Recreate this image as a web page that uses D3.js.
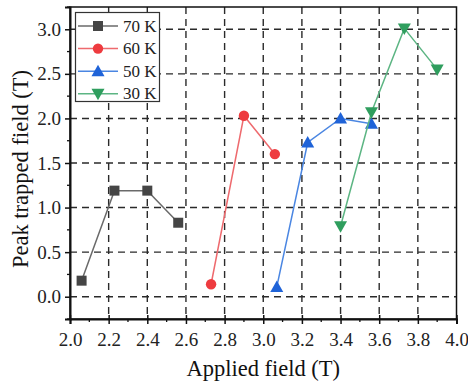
<!DOCTYPE html>
<html>
<head>
<meta charset="utf-8">
<script src="https://cdn.jsdelivr.net/npm/d3@7"></script>
<style>
  html, body { margin: 0; padding: 0; background: #fff; }
  svg { display: block; font-family: "Liberation Serif", "Times New Roman", serif; }
</style>
</head>
<body>
<svg id="chart" width="468" height="385"></svg>
<script>
// Peak trapped field versus applied field at several temperatures
const seriesNames = ["70 K", "60 K", "50 K", "30 K"];
const appliedField70 = [2.06, 2.23, 2.40, 2.56];
const trapped70 = [0.18, 1.19, 1.19, 0.83];
const appliedField60 = [2.73, 2.90, 3.06];
const trapped60 = [0.14, 2.03, 1.60];
const appliedField50 = [3.07, 3.23, 3.40, 3.56];
const trapped50 = [0.11, 1.73, 2.00, 1.94];
const appliedField30 = [3.40, 3.56, 3.73, 3.90];
const trapped30 = [0.79, 2.07, 3.01, 2.55];
const xTicks = [2.0, 2.2, 2.4, 2.6, 2.8, 3.0, 3.2, 3.4, 3.6, 3.8, 4.0];
const yTicks = [0.0, 0.5, 1.0, 1.5, 2.0, 2.5, 3.0];

const series = [
  { name: seriesNames[0], x: appliedField70, y: trapped70, marker: "square", fill: "#454545", line: "#6a6a6a" },
  { name: seriesNames[1], x: appliedField60, y: trapped60, marker: "circle", fill: "#ee3b3f", line: "#ee6a6e" },
  { name: seriesNames[2], x: appliedField50, y: trapped50, marker: "up", fill: "#1f63d8", line: "#4a86e2" },
  { name: seriesNames[3], x: appliedField30, y: trapped30, marker: "down", fill: "#2f9e5e", line: "#5cb583" }
];

const svg = d3.select("#chart");
const plotLeft = 70, plotRight = 456.5, plotTop = 7, plotBottom = 319;

const x = d3.scaleLinear().domain([2.0, 4.0]).range([plotLeft, plotRight]);
const y = d3.scaleLinear().domain([-0.25, 3.25]).range([plotBottom, plotTop]);

// dashed grid
const grid = svg.append("g");
grid.selectAll("line.gx").data(xTicks.slice(1, -1)).join("line")
  .attr("class", "gx")
  .attr("x1", d => x(d)).attr("x2", d => x(d))
  .attr("y1", plotTop).attr("y2", plotBottom)
  .attr("stroke", "#2a2a2a").attr("stroke-width", 1.4).attr("stroke-dasharray", "7,5");
grid.selectAll("line.gy").data(yTicks).join("line")
  .attr("class", "gy")
  .attr("y1", d => y(d)).attr("y2", d => y(d))
  .attr("x1", plotLeft).attr("x2", plotRight)
  .attr("stroke", "#2a2a2a").attr("stroke-width", 1.4).attr("stroke-dasharray", "7,5");

// frame
svg.append("rect").attr("x", plotLeft).attr("y", plotTop)
  .attr("width", plotRight - plotLeft).attr("height", plotBottom - plotTop)
  .attr("fill", "none").attr("stroke", "#111").attr("stroke-width", 1.5);

// x axis
const xAxis = svg.append("g").attr("transform", `translate(0,${plotBottom})`)
  .call(d3.axisBottom(x).tickValues(xTicks).tickFormat(d3.format(".1f")).tickSize(5).tickPadding(9));
xAxis.select(".domain").attr("stroke", "#111").attr("stroke-width", 2);
xAxis.selectAll(".tick line").attr("y1", -4).attr("stroke", "#111").attr("stroke-width", 1.5);
xAxis.selectAll("text").attr("font-size", 19).attr("fill", "#222").attr("font-family", "Liberation Serif");
svg.append("g").selectAll("line").data(d3.range(2.1, 4.0, 0.2)).join("line")
  .attr("x1", d => x(d)).attr("x2", d => x(d))
  .attr("y1", plotBottom).attr("y2", plotBottom + 3)
  .attr("stroke", "#111").attr("stroke-width", 1.3);

// y axis
const yAxis = svg.append("g").attr("transform", `translate(${plotLeft},0)`)
  .call(d3.axisLeft(y).tickValues(yTicks).tickFormat(d3.format(".1f")).tickSize(5).tickPadding(4));
yAxis.select(".domain").attr("stroke", "#111").attr("stroke-width", 2);
yAxis.selectAll(".tick line").attr("stroke", "#111").attr("stroke-width", 1.5);
yAxis.selectAll("text").attr("font-size", 19).attr("fill", "#222").attr("font-family", "Liberation Serif");
svg.append("g").selectAll("line").data([-0.25, 0.25, 0.75, 1.25, 1.75, 2.25, 2.75, 3.25]).join("line")
  .attr("y1", d => y(d)).attr("y2", d => y(d))
  .attr("x1", plotLeft).attr("x2", plotLeft - 3)
  .attr("stroke", "#111").attr("stroke-width", 1.3);

// axis titles
svg.append("text").attr("x", (plotLeft + plotRight) / 2).attr("y", 376)
  .attr("text-anchor", "middle").attr("font-size", 22.5).attr("fill", "#111")
  .text("Applied field (T)");
svg.append("text").attr("transform", "translate(28,169) rotate(-90)")
  .attr("text-anchor", "middle").attr("font-size", 22.5).attr("fill", "#111")
  .text("Peak trapped field (T)");

function markerPath(kind) {
  if (kind === "square") return d3.symbol(d3.symbolSquare, 100)();
  if (kind === "circle") return d3.symbol(d3.symbolCircle, 85)();
  if (kind === "up") return "M0,-6.5L6.5,5L-6.5,5Z";
  return "M0,6.5L6.5,-5L-6.5,-5Z";
}

// series lines and markers
const line = d3.line().x(d => x(d[0])).y(d => y(d[1]));
series.forEach(s => {
  const pts = s.x.map((v, i) => [v, s.y[i]]);
  svg.append("path").datum(pts).attr("d", line)
    .attr("fill", "none").attr("stroke", s.line).attr("stroke-width", 1.5);
  svg.append("g").selectAll("path").data(pts).join("path")
    .attr("transform", d => `translate(${x(d[0])},${y(d[1])})`)
    .attr("d", markerPath(s.marker)).attr("fill", s.fill);
});

// legend
const lg = svg.append("g");
lg.append("rect").attr("x", 75.5).attr("y", 12.5).attr("width", 84).attr("height", 89)
  .attr("fill", "#fff").attr("stroke", "#333").attr("stroke-width", 1.2);
series.forEach((s, i) => {
  const cy = 26 + i * 22.6;
  lg.append("line").attr("x1", 78).attr("x2", 118).attr("y1", cy).attr("y2", cy)
    .attr("stroke", s.line).attr("stroke-width", 1.5);
  lg.append("path").attr("transform", `translate(98,${cy})`)
    .attr("d", markerPath(s.marker)).attr("fill", s.fill);
  lg.append("text").attr("x", 123).attr("y", cy + 5.5)
    .attr("font-size", 17).attr("fill", "#222").text(s.name);
});
</script>
</body>
</html>
